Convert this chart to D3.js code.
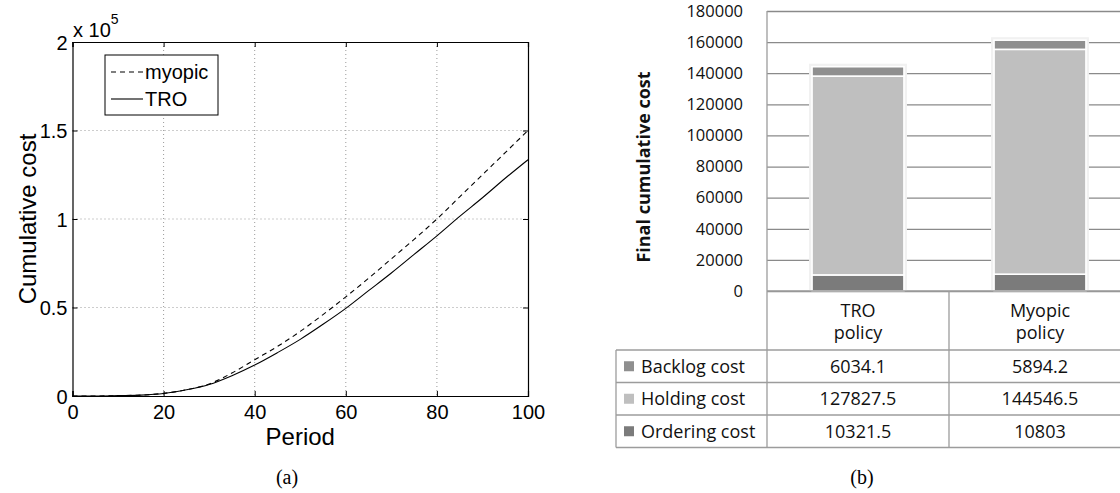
<!DOCTYPE html>
<html>
<head>
<meta charset="utf-8">
<script src="https://cdn.jsdelivr.net/npm/d3@7"></script>
<style>
  html, body { margin: 0; padding: 0; background: #fff; }
  svg { display: block; }
</style>
</head>
<body>
<svg id="chart" width="1120" height="493"></svg>
<script>
// ---- panel (a): cumulative cost over time ----
const periods = [0, 5, 10, 15, 20, 25, 30, 35, 40, 45, 50, 55, 60, 65, 70, 75, 80, 85, 90, 95, 100];
const myopicCost = [0, 0, 200, 500, 1500, 3500, 6800, 13000, 20500, 28000, 36500, 46000, 56000, 66500, 77500, 88500, 100000, 112500, 125000, 137500, 150000];
const troCost = [0, 0, 200, 500, 1400, 3500, 6500, 11500, 17500, 24500, 32000, 40500, 49500, 59500, 69500, 80000, 90500, 101500, 112000, 123000, 133500];
const xTicksA = [0, 20, 40, 60, 80, 100];
const yTicksA = [0, 50000, 100000, 150000, 200000];

// ---- panel (b): final cumulative cost, stacked ----
const policies = ['TRO policy', 'Myopic policy'];
const backlogCost = [6034.1, 5894.2];
const holdingCost = [127827.5, 144546.5];
const orderingCost = [10321.5, 10803];
const yTicksB = [0, 20000, 40000, 60000, 80000, 100000, 120000, 140000, 160000, 180000];

const MATLAB_FONT = '"Liberation Sans", Arial, sans-serif';
const EXCEL_FONT = '"Open Sans", "Noto Sans", sans-serif';
const GRID_GRAY = '#8a8a8a';

const svg = d3.select('#chart');

// ================= panel (a) =================
const xA = d3.scaleLinear().domain([0, 100]).range([72.5, 528]);
const yA = d3.scaleLinear().domain([0, 200000]).range([396, 42]);
const gA = svg.append('g');

// dotted grid
gA.append('g')
    .selectAll('line')
    .data(xTicksA.slice(1, -1))
    .join('line')
    .attr('x1', d => xA(d)).attr('x2', d => xA(d))
    .attr('y1', yA(200000)).attr('y2', yA(0))
    .attr('stroke', '#9a9a9a')
    .attr('stroke-width', 1)
    .attr('stroke-dasharray', '1,3');
gA.append('g')
    .selectAll('line')
    .data(yTicksA.slice(1, -1))
    .join('line')
    .attr('x1', xA(0)).attr('x2', xA(100))
    .attr('y1', d => yA(d)).attr('y2', d => yA(d))
    .attr('stroke', '#9a9a9a')
    .attr('stroke-width', 1)
    .attr('stroke-dasharray', '1,3');

// axes, ticks pointing inside like matlab
const bottomA = gA.append('g')
    .attr('transform', `translate(0,${yA(0)})`)
    .call(d3.axisBottom(xA).tickValues(xTicksA).tickSize(-5).tickPadding(9));
const topA = gA.append('g')
    .attr('transform', `translate(0,${yA(200000)})`)
    .call(d3.axisTop(xA).tickValues(xTicksA).tickSize(-5).tickFormat(''));
const leftA = gA.append('g')
    .attr('transform', `translate(${xA(0)},0)`)
    .call(d3.axisLeft(yA).tickValues(yTicksA).tickSize(-5).tickPadding(5)
        .tickFormat(d => d / 100000));
const rightA = gA.append('g')
    .attr('transform', `translate(${xA(100)},0)`)
    .call(d3.axisRight(yA).tickValues(yTicksA).tickSize(-5).tickFormat(''));

[bottomA, topA, leftA, rightA].forEach(ax => {
    ax.select('.domain').attr('stroke', '#000').attr('stroke-width', 1.2);
    ax.selectAll('.tick line').attr('stroke', '#000');
    ax.selectAll('text')
        .attr('fill', '#000')
        .style('font-family', MATLAB_FONT)
        .style('font-size', '20px');
});
bottomA.selectAll('text').attr('dy', '0.71em');
leftA.selectAll('text').attr('dy', '0.36em');

// exponent marker
const expo = gA.append('text')
    .attr('x', 73).attr('y', 37)
    .style('font-family', MATLAB_FONT)
    .style('font-size', '20px');
expo.append('tspan').text('x 10');
expo.append('tspan').attr('dy', -13).style('font-size', '14px').text('5');

// curves
const lineA = d3.line()
    .x((d, i) => xA(periods[i]))
    .y(d => yA(d))
    .curve(d3.curveMonotoneX);

gA.append('path')
    .datum(myopicCost)
    .attr('d', lineA)
    .attr('fill', 'none')
    .attr('stroke', '#000')
    .attr('stroke-width', 1.1)
    .attr('stroke-dasharray', '5,4');
gA.append('path')
    .datum(troCost)
    .attr('d', lineA)
    .attr('fill', 'none')
    .attr('stroke', '#000')
    .attr('stroke-width', 1.1);

// legend
const legA = gA.append('g');
legA.append('rect')
    .attr('x', 105).attr('y', 55)
    .attr('width', 113).attr('height', 60)
    .attr('fill', '#fff').attr('stroke', '#000').attr('stroke-width', 1);
[['myopic', '5,4', 72], ['TRO', null, 99]].forEach(([name, dash, ly]) => {
    legA.append('line')
        .attr('x1', 111).attr('x2', 143)
        .attr('y1', ly).attr('y2', ly)
        .attr('stroke', '#000').attr('stroke-width', 1.1)
        .attr('stroke-dasharray', dash);
    legA.append('text')
        .attr('x', 145).attr('y', ly).attr('dy', '0.36em')
        .style('font-family', MATLAB_FONT)
        .style('font-size', '20px')
        .text(name);
});

// axis labels
gA.append('text')
    .attr('x', (xA(0) + xA(100)) / 2).attr('y', 445)
    .attr('text-anchor', 'middle')
    .style('font-family', MATLAB_FONT)
    .style('font-size', '24px')
    .text('Period');
gA.append('text')
    .attr('transform', `translate(36,${(yA(0) + yA(200000)) / 2}) rotate(-90)`)
    .attr('text-anchor', 'middle')
    .style('font-family', MATLAB_FONT)
    .style('font-size', '24px')
    .text('Cumulative cost');

gA.append('text')
    .attr('x', 287).attr('y', 484)
    .attr('text-anchor', 'middle')
    .style('font-family', '"Liberation Serif", "DejaVu Serif", serif')
    .style('font-size', '20px')
    .text('(a)');

// ================= panel (b) =================
const xB = d3.scaleBand().domain(policies).range([767, 1131]);
const yB = d3.scaleLinear().domain([0, 180000]).range([291, 11]);
const gB = svg.append('g');
const TABLE_LINE = '#9c9c9c';

const seriesKeys = ['ordering', 'holding', 'backlog'];
const seriesNames = { backlog: 'Backlog cost', holding: 'Holding cost', ordering: 'Ordering cost' };
const seriesColors = { backlog: '#8f8f8f', holding: '#bfbfbf', ordering: '#7b7b7b' };
const seriesValues = { backlog: backlogCost, holding: holdingCost, ordering: orderingCost };

const rowsB = policies.map((p, i) => ({
    policy: p,
    backlog: backlogCost[i],
    holding: holdingCost[i],
    ordering: orderingCost[i]
}));
const stacked = d3.stack().keys(seriesKeys)(rowsB);

// gridlines
const gridB = gB.append('g')
    .attr('transform', `translate(${xB.range()[0]},0)`)
    .call(d3.axisLeft(yB).tickValues(yTicksB)
        .tickSize(-(xB.range()[1] - xB.range()[0]))
        .tickPadding(24)
        .tickFormat(d3.format('d')));
gridB.select('.domain').remove();
gridB.selectAll('.tick line').attr('stroke', GRID_GRAY).attr('stroke-width', 1.3);
gridB.selectAll('text')
    .attr('fill', '#111')
    .style('font-family', EXCEL_FONT)
    .style('font-size', '16.5px');

// bars
const barW = xB.bandwidth() * 0.505;
const barX = d => xB(d.data.policy) + (xB.bandwidth() - barW) / 2;

gB.append('g')
    .selectAll('rect')
    .data(rowsB)
    .join('rect')
    .attr('x', d => xB(d.policy) + (xB.bandwidth() - barW) / 2 - 3)
    .attr('y', d => yB(d.backlog + d.holding + d.ordering) - 3)
    .attr('width', barW + 6)
    .attr('height', d => yB(0) - yB(d.backlog + d.holding + d.ordering) + 3)
    .attr('fill', '#f1f1f1');

gB.append('g')
    .selectAll('g')
    .data(stacked)
    .join('g')
    .attr('fill', s => seriesColors[s.key])
    .selectAll('rect')
    .data(s => s)
    .join('rect')
    .attr('x', barX)
    .attr('y', d => yB(d[1]))
    .attr('width', barW)
    .attr('height', d => yB(d[0]) - yB(d[1]))
    .attr('stroke', '#fff')
    .attr('stroke-width', 1.6);

// data table under the plot
const tableLeft = 616;
const tableRight = 1120;
const headerBottom = 350;
const rowH = 32.5;
const tableRows = ['backlog', 'holding', 'ordering'];
const tableBottom = headerBottom + rowH * tableRows.length;
const lines = gB.append('g').attr('stroke', TABLE_LINE).attr('stroke-width', 1.3);

lines.append('line')
    .attr('x1', xB.range()[0]).attr('x2', xB.range()[0])
    .attr('y1', yB(180000)).attr('y2', tableBottom);
lines.append('line')
    .attr('x1', xB.range()[0]).attr('x2', tableRight)
    .attr('y1', yB(0)).attr('y2', yB(0));
lines.selectAll('.col')
    .data(policies.slice(1))
    .join('line')
    .attr('x1', d => xB(d)).attr('x2', d => xB(d))
    .attr('y1', yB(0)).attr('y2', tableBottom);
lines.append('line')
    .attr('x1', tableLeft).attr('x2', tableLeft)
    .attr('y1', headerBottom).attr('y2', tableBottom);
lines.selectAll('.row')
    .data(d3.range(tableRows.length + 1))
    .join('line')
    .attr('x1', tableLeft).attr('x2', tableRight)
    .attr('y1', i => headerBottom + i * rowH)
    .attr('y2', i => headerBottom + i * rowH);

// header cells
const header = gB.append('g')
    .selectAll('text')
    .data(policies)
    .join('text')
    .attr('x', d => xB(d) + xB.bandwidth() / 2)
    .attr('y', 317)
    .attr('text-anchor', 'middle')
    .style('font-family', EXCEL_FONT)
    .style('font-size', '18px')
    .attr('fill', '#111');
header.selectAll('tspan')
    .data(d => d.split(' '))
    .join('tspan')
    .attr('x', function() { return this.parentNode.getAttribute('x'); })
    .attr('dy', (d, i) => i ? 22 : 0)
    .text(d => d);

// body rows
tableRows.forEach((key, r) => {
    const cy = headerBottom + rowH * r + rowH / 2;
    gB.append('rect')
        .attr('x', 624).attr('y', cy - 5)
        .attr('width', 10).attr('height', 10)
        .attr('fill', seriesColors[key]);
    gB.append('text')
        .attr('x', 641).attr('y', cy).attr('dy', '0.36em')
        .style('font-family', EXCEL_FONT)
        .style('font-size', '18px')
        .attr('fill', '#111')
        .text(seriesNames[key]);
    policies.forEach((p, i) => {
        gB.append('text')
            .attr('x', xB(p) + xB.bandwidth() / 2).attr('y', cy).attr('dy', '0.36em')
            .attr('text-anchor', 'middle')
            .style('font-family', EXCEL_FONT)
            .style('font-size', '18px')
            .attr('fill', '#111')
            .text(String(seriesValues[key][i]));
    });
});

// y title
gB.append('text')
    .attr('transform', 'translate(650,167) rotate(-90)')
    .attr('text-anchor', 'middle')
    .style('font-family', EXCEL_FONT)
    .style('font-size', '18px')
    .style('font-weight', 'bold')
    .attr('fill', '#111')
    .text('Final cumulative cost');

gB.append('text')
    .attr('x', 862).attr('y', 484)
    .attr('text-anchor', 'middle')
    .style('font-family', '"Liberation Serif", "DejaVu Serif", serif')
    .style('font-size', '20px')
    .text('(b)');
</script>
</body>
</html>
